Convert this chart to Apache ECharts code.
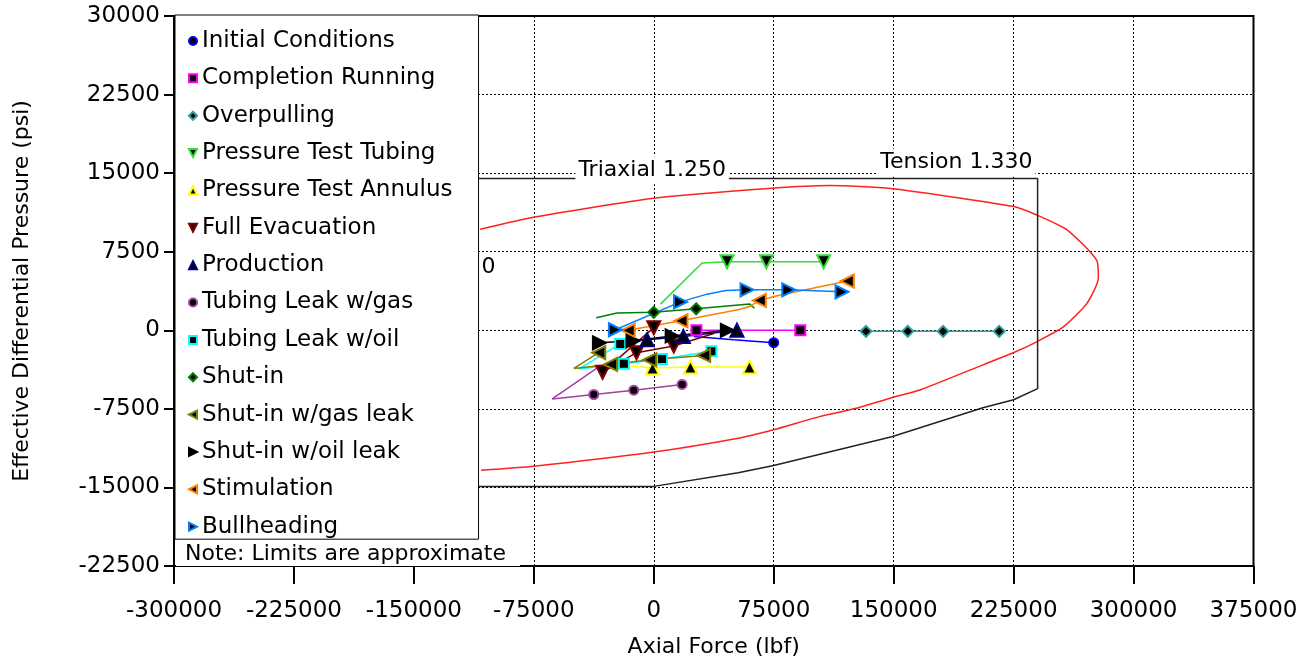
<!DOCTYPE html>
<html>
<head>
<meta charset="utf-8">
<title>Effective Differential Pressure vs Axial Force</title>
<script src="https://cdn.jsdelivr.net/npm/echarts@6/dist/echarts.min.js"></script>
<style>
  html, body { margin: 0; padding: 0; background: #fff; }
  #chart { width: 1313px; height: 663px; }
</style>
</head>
<body>
<div id="chart"></div>
<script>
// axis ranges [min, max, interval]
var xAxisRange = [-300000, 375000, 75000];
var yAxisRange = [-22500, 30000, 7500];

var seriesNames = ['Initial Conditions', 'Completion Running', 'Overpulling', 'Pressure Test Tubing',
  'Pressure Test Annulus', 'Full Evacuation', 'Production', 'Tubing Leak w/gas', 'Tubing Leak w/oil',
  'Shut-in', 'Shut-in w/gas leak', 'Shut-in w/oil leak', 'Stimulation', 'Bullheading'];

// load cases, [axial force lbf, effective differential pressure psi]
var initialConditions = [[25000, -600], [50000, -900], [75000, -1180]];
var completionRunning = [[26700, 0], [91600, 0]];
var overpulling = [[132700, -100], [158800, -100], [180900, -100], [216000, -100]];
var pressureTestTubing = [[4200, 2500], [30200, 6420], [45800, 6550], [70400, 6550], [106200, 6550]];
var pressureTestAnnulus = [[-14600, -3400], [-800, -3600], [22900, -3500], [59800, -3500]];
var fullEvacuation = [[0, 250], [-32000, -4000], [-10800, -2140], [12500, -1500], [37500, -300]];
var production = [[-10000, -900], [-4200, -900], [18500, -600], [52000, 0]];
var tubingLeakGas = [[-34400, -3500], [-63500, -6550], [-37500, -6130], [-12500, -5720], [17700, -5170]];
var tubingLeakOil = [[-21000, -1300], [-47000, -3700], [-18700, -3200], [5200, -2750], [36000, -2000]];
var shutIn = [[-36000, 1200], [-23000, 1650], [0, 1720], [26500, 2050], [60000, 2500], [63000, 2100]];
var shutInGasLeak = [[-34400, -2140], [-50000, -3640], [-27000, -3260], [-2500, -2820], [31200, -2400]];
var shutInOilLeak = [[-34000, -1200], [-13000, -1000], [11500, -540], [46000, 0]];
var stimulation = [[-16000, 0], [17000, 900], [54000, 2000], [60400, 2300], [66000, 2850], [77000, 3290], [111400, 4400], [121000, 4700]];
var bullheading = [[-24000, 50], [16700, 2710], [33300, 3450], [45000, 3800], [58300, 3860], [84400, 3860], [117700, 3670]];

// design limits
var triaxialLimit = [[-108600, 9640], [-75000, 10790], [0, 12610], [73800, 13560], [109800, 13820],
  [148200, 13530], [225000, 11810], [239400, 11010], [258600, 9570], [277000, 6670], [278000, 5000],
  [270700, 2540], [256100, 320], [239400, -1100], [224800, -2150], [197600, -3800], [166300, -5700],
  [148800, -6440], [126600, -7450], [103600, -8240], [75000, -9500], [52800, -10300], [0, -11620],
  [-75000, -12970], [-108000, -13360]];
var tensionLimit = [[-150000, 14500], [240000, 14500], [240000, -5570], [225000, -6630], [205800, -7400],
  [148800, -10170], [75000, -12900], [52800, -13600], [0, -14900], [-150000, -14900]];
var limitLabels = ['Triaxial 1.250', 'Tension 1.330', '0'];
var limitLabelAt = [[-1000, 15280], [189200, 16000], [-103300, 6030]];

var seriesPoints = [initialConditions, completionRunning, overpulling, pressureTestTubing,
  pressureTestAnnulus, fullEvacuation, production, tubingLeakGas, tubingLeakOil,
  shutIn, shutInGasLeak, shutInOilLeak, stimulation, bullheading];

// look of each load case
var TRI_DOWN = 'path://M0,0L10,0L5,10Z';
var TRI_LEFT = 'path://M10,0L10,10L0,5Z';
var TRI_RIGHT = 'path://M0,0L10,5L0,10Z';
var colors = ['#0000ff', '#ff00ff', '#2f9f9f', '#33dd33', '#ffff00', '#800000', '#000080',
  '#a040a0', '#00ffff', '#008000', '#808000', '#000000', '#ff8000', '#0080ff'];
var symbols = ['circle', 'rect', 'diamond', TRI_DOWN, 'triangle', TRI_DOWN, 'triangle',
  'circle', 'rect', 'diamond', TRI_LEFT, TRI_RIGHT, TRI_LEFT, TRI_RIGHT];
var sizes = [9, 10, 11, 13, 13, 13, 13, 9, 10, 11, 13, 13, 13, 13];
var markedIdx = [[2], [0, 1], [0, 1, 2, 3], [2, 3, 4], [1, 2, 3], [0, 1, 2, 3], [1, 2, 3],
  [2, 3, 4], [0, 2, 3, 4], [2, 3], [0, 2, 3, 4], [0, 1, 2, 3], [0, 1, 4, 7], [0, 1, 4, 5, 6]];

var FONT = 'DejaVu Sans';

var chart = echarts.init(document.getElementById('chart'));

var series = [
  {
    name: 'triaxial', type: 'line', data: triaxialLimit, showSymbol: false, silent: true,
    smooth: 0.2, lineStyle: { color: '#ff2020', width: 1.5 }, z: 2
  },
  {
    name: 'tension', type: 'line', data: tensionLimit, showSymbol: false, silent: true,
    lineStyle: { color: '#222', width: 1.5 }, z: 2
  },
  {
    name: 'limitLabels', type: 'scatter', symbolSize: 0, silent: true, z: 3,
    itemStyle: { opacity: 1 },
    data: limitLabels.map(function (t, i) { return { name: t, value: limitLabelAt[i] }; }),
    label: {
      show: true, position: 'inside', formatter: '{b}', color: '#000', opacity: 1,
      fontFamily: FONT, fontSize: 22, backgroundColor: '#fff', padding: [1, 3, 5, 3]
    }
  }
];

seriesNames.forEach(function (name, i) {
  series.push({
    name: name,
    type: 'line',
    data: seriesPoints[i].map(function (p, k) {
      return { value: p, symbol: markedIdx[i].indexOf(k) >= 0 ? symbols[i] : 'none' };
    }),
    symbol: symbols[i],
    symbolSize: sizes[i],
    showAllSymbol: true,
    itemStyle: { color: '#000', borderColor: colors[i], borderWidth: 2 },
    lineStyle: { color: colors[i], width: 1.5 },
    z: 4
  });
});

function plain(v) { return String(v); }

chart.setOption({
  animation: false,
  textStyle: { fontFamily: FONT },
  grid: {
    left: 174, right: 59.5, top: 16, bottom: 95.5,
    show: true, borderColor: '#000', borderWidth: 2
  },
  xAxis: {
    type: 'value',
    min: xAxisRange[0], max: xAxisRange[1], interval: xAxisRange[2],
    name: 'Axial Force (lbf)', nameLocation: 'middle', nameGap: 70,
    nameTextStyle: { fontFamily: FONT, fontSize: 22, color: '#000' },
    axisLine: { show: true, onZero: false, lineStyle: { color: '#000', width: 2 } },
    axisTick: { show: true, length: 18, lineStyle: { color: '#000', width: 2 } },
    axisLabel: { fontFamily: FONT, fontSize: 23, color: '#000', margin: 34, formatter: plain },
    splitLine: { show: true, lineStyle: { color: '#000', width: 1, type: [2, 2] } }
  },
  yAxis: {
    type: 'value',
    min: yAxisRange[0], max: yAxisRange[1], interval: yAxisRange[2],
    name: 'Effective Differential Pressure (psi)', nameLocation: 'middle', nameGap: 141,
    nameTextStyle: { fontFamily: FONT, fontSize: 22, color: '#000' },
    axisLine: { show: true, onZero: false, lineStyle: { color: '#000', width: 2 } },
    axisTick: { show: true, length: 10, lineStyle: { color: '#000', width: 2 } },
    axisLabel: { fontFamily: FONT, fontSize: 23, color: '#000', margin: 14, formatter: plain },
    splitLine: { show: true, lineStyle: { color: '#000', width: 1, type: [2, 2] } }
  },
  legend: {
    orient: 'vertical',
    left: 175, top: 15,
    padding: [14.5, 26, 1, 13],
    itemGap: 14.36,
    itemWidth: 8, itemHeight: 8,
    backgroundColor: '#fff',
    borderColor: '#000', borderWidth: 1,
    selectedMode: false,
    textStyle: { fontFamily: FONT, fontSize: 23, color: '#000', lineHeight: 23 },
    data: seriesNames.map(function (n, i) { return { name: n, icon: symbols[i] }; })
  },
  graphic: [
    { type: 'rect', left: 176, top: 540, z: 100, shape: { width: 344, height: 26 }, style: { fill: '#fff' } },
    {
      type: 'text', left: 185, top: 543, z: 101,
      style: { text: 'Note: Limits are approximate', font: '22px "DejaVu Sans"', fill: '#000' }
    }
  ],
  series: series
});
</script>
</body>
</html>
